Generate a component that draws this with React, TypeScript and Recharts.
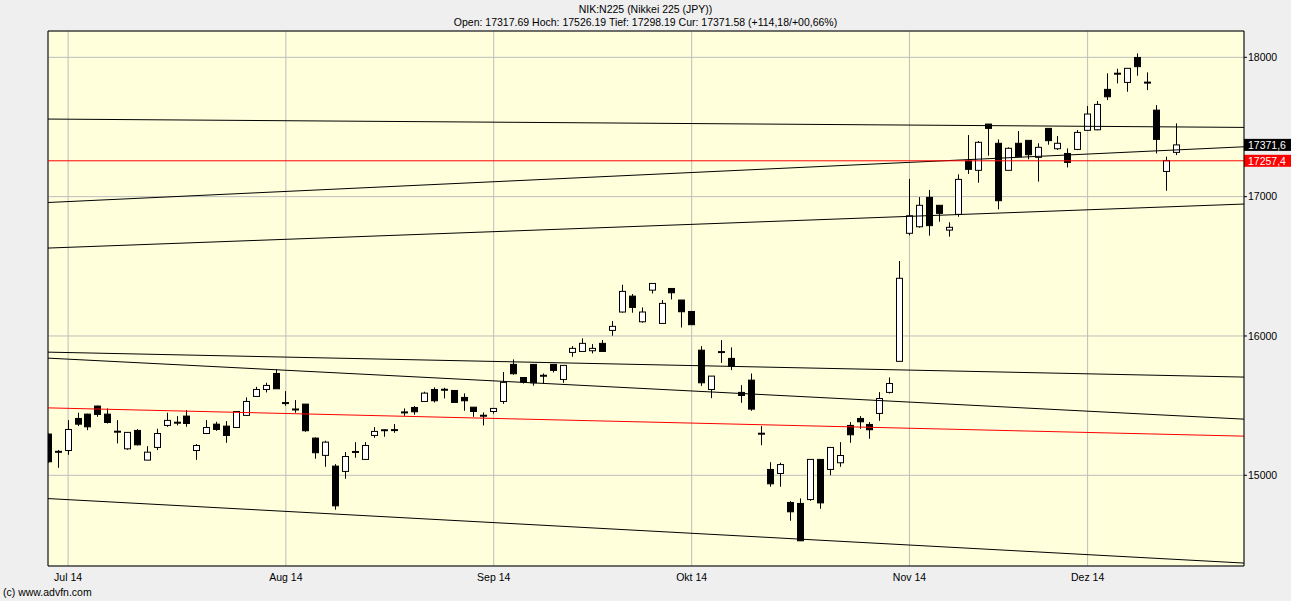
import { ComposedChart, Bar, XAxis, YAxis, CartesianGrid, ReferenceLine } from 'recharts';

// index 0 = first trading day of July 2014; the chart starts two sessions earlier
const firstIndex = -2;

// [open, high, low, close] per trading day
const candles: [number, number, number, number][] = [
  [15296, 15300, 15090, 15097], [15167, 15181, 15054, 15170], [15178, 15396, 15147, 15329],
  [15408, 15449, 15353, 15367], [15439, 15442, 15324, 15348], [15497, 15500, 15420, 15437],
  [15439, 15480, 15372, 15379], [15312, 15396, 15229, 15314], [15190, 15310, 15183, 15308],
  [15322, 15331, 15214, 15219], [15109, 15209, 15109, 15166], [15200, 15334, 15181, 15300],
  [15358, 15449, 15348, 15394], [15379, 15425, 15358, 15376], [15425, 15468, 15348, 15372],
  [15178, 15224, 15111, 15214], [15300, 15396, 15296, 15343], [15367, 15384, 15319, 15329],
  [15353, 15389, 15233, 15286], [15343, 15460, 15341, 15458], [15430, 15559, 15430, 15530],
  [15566, 15635, 15564, 15616], [15616, 15664, 15595, 15645], [15731, 15760, 15621, 15621],
  [15523, 15604, 15499, 15514], [15473, 15540, 15449, 15472], [15511, 15511, 15312, 15320],
  [15267, 15272, 15119, 15162], [15143, 15248, 15061, 15238], [15066, 15080, 14753, 14781],
  [15028, 15167, 14975, 15135], [15167, 15238, 15126, 15168], [15114, 15238, 15114, 15214],
  [15286, 15346, 15269, 15315], [15324, 15329, 15277, 15323], [15324, 15368, 15305, 15325],
  [15451, 15480, 15427, 15452], [15487, 15497, 15435, 15456], [15530, 15600, 15530, 15590],
  [15616, 15631, 15523, 15535], [15616, 15628, 15552, 15612], [15609, 15609, 15523, 15523],
  [15559, 15588, 15463, 15535], [15489, 15489, 15420, 15458], [15427, 15451, 15358, 15428],
  [15458, 15480, 15442, 15480], [15530, 15741, 15513, 15667], [15796, 15832, 15722, 15729],
  [15702, 15702, 15659, 15669], [15796, 15796, 15643, 15664], [15714, 15731, 15659, 15715],
  [15796, 15796, 15738, 15753], [15688, 15789, 15664, 15789], [15882, 15927, 15851, 15911],
  [15889, 15983, 15889, 15947], [15894, 15942, 15875, 15911], [15947, 15971, 15889, 15889],
  [16040, 16107, 16002, 16069], [16172, 16368, 16167, 16320], [16286, 16301, 16167, 16205],
  [16102, 16205, 16095, 16172], [16329, 16377, 16305, 16377], [16090, 16258, 16090, 16234],
  [16341, 16341, 16262, 16310], [16258, 16258, 16061, 16174], [16176, 16176, 16081, 16081],
  [15898, 15927, 15642, 15664], [15616, 15712, 15554, 15712], [15884, 15970, 15807, 15885],
  [15839, 15918, 15755, 15784], [15595, 15647, 15520, 15573], [15683, 15731, 15463, 15475],
  [15298, 15353, 15216, 15299], [15042, 15094, 14918, 14939], [15013, 15090, 14918, 15077],
  [14805, 14814, 14674, 14738], [14798, 14834, 14530, 14530], [14826, 15114, 14817, 15114],
  [15114, 15114, 14760, 14802], [15042, 15200, 15001, 15200], [15090, 15238, 15061, 15142],
  [15358, 15382, 15233, 15291], [15408, 15425, 15334, 15384], [15365, 15382, 15262, 15327],
  [15444, 15597, 15391, 15551], [15595, 15702, 15587, 15659], [15818, 16538, 15818, 16414],
  [16737, 17127, 16722, 16863], [16784, 16997, 16777, 16938], [16995, 17048, 16720, 16792],
  [16938, 16938, 16820, 16880], [16760, 16816, 16713, 16780], [16873, 17160, 16856, 17124],
  [17256, 17442, 17163, 17196], [17189, 17399, 17100, 17390], [17521, 17521, 17294, 17490],
  [17383, 17411, 16909, 16971], [17189, 17354, 17189, 17347], [17383, 17471, 17287, 17287],
  [17404, 17404, 17268, 17301], [17282, 17383, 17108, 17354], [17490, 17490, 17373, 17402],
  [17344, 17435, 17335, 17383], [17310, 17346, 17210, 17246], [17339, 17478, 17334, 17461],
  [17476, 17650, 17476, 17593], [17480, 17686, 17476, 17662], [17770, 17885, 17693, 17717],
  [17882, 17918, 17813, 17883], [17820, 17921, 17753, 17921], [17999, 18028, 17868, 17933],
  [17818, 17892, 17765, 17819], [17621, 17657, 17310, 17411], [17181, 17287, 17042, 17258],
  [17317.69, 17526.19, 17298.19, 17371.58],
];

const monthTicks = [0, 22, 43, 63, 85, 103];
const monthLabels = ['Jul 14', 'Aug 14', 'Sep 14', 'Okt 14', 'Nov 14', 'Dez 14'];
const priceTicks = [15000, 16000, 17000, 18000];

// visible index / price window
const xDomain: [number, number] = [-2.03, 118.8];
const yDomain: [number, number] = [14349, 18189];

// trend lines: [value at left edge, value at right edge]
const blackLines: [number, number][] = [
  [17557, 17497], [16958, 17358], [16631, 16947],
  [15884, 15705], [15841, 15403], [14833, 14370],
];
const redLines: [number, number][] = [[15484, 15281]];
const redLevel = 17257.4;
const lastClose = 17371.6;

const fmtDe = (v: number) => v.toFixed(1).replace('.', ',');

const data = candles.map(([open, high, low, close], k) => ({
  i: firstIndex + k, open, high, low, close, range: [low, high],
}));

const FONT = "'Liberation Sans', Arial, sans-serif";

function Candle(props: any) {
  const { x, y, width, height, payload } = props;
  const { open, high, low, close } = payload;
  const cx = Math.round(x + width / 2) + 0.5;
  const py = (v: number) => y + ((high - v) / (high - low)) * height;
  const top = py(Math.max(open, close));
  const bot = py(Math.min(open, close));
  const body = bot - top;
  return (
    <g>
      <line x1={cx} x2={cx} y1={y} y2={y + height} stroke="#000" strokeWidth={1} />
      {body < 1.5 ? (
        <line x1={cx - 3.5} x2={cx + 3.5} y1={(top + bot) / 2} y2={(top + bot) / 2} stroke="#000" strokeWidth={2} />
      ) : (
        <rect x={cx - 3} y={top} width={6} height={body} fill={close >= open ? '#fff' : '#000'} stroke="#000" strokeWidth={1} />
      )}
    </g>
  );
}

function PriceTag({ viewBox, text, fill }: any) {
  const left = viewBox.x + viewBox.width;
  return (
    <g>
      <rect x={left} y={viewBox.y - 6} width={48} height={12} fill={fill} />
      <text x={left + 4} y={viewBox.y + 4} fill="#fff" fontSize={10.5} fontFamily={FONT}>{text}</text>
    </g>
  );
}

export default function App() {
  return (
    <div style={{ position: 'absolute', left: 0, top: 0, width: 1291, height: 601, background: '#efefef', fontFamily: FONT, color: '#000' }}>
      <div style={{ position: 'absolute', top: 3, left: 0, width: 1291, textAlign: 'center', fontSize: 10.5, lineHeight: '13px' }}>
        <div>NIK:N225 (Nikkei 225 (JPY))</div>
        <div>Open: 17317.69 Hoch: 17526.19 Tief: 17298.19 Cur: 17371.58 (+114,18/+00,66%)</div>
      </div>
      <ComposedChart width={1291} height={601} data={data} margin={{ top: 31, right: 0, bottom: 0, left: 48 }}>
        <CartesianGrid fill="#ffffdc" stroke="#bdbdbd" horizontal vertical />
        <XAxis
          dataKey="i" type="number" domain={xDomain} allowDataOverflow
          ticks={monthTicks} interval={0} height={35}
          tickFormatter={(v: number) => monthLabels[monthTicks.indexOf(v)] ?? ''}
          tick={{ fontSize: 10.5, fill: '#000', fontFamily: FONT }}
          tickLine={false} tickSize={6} tickMargin={2}
          axisLine={{ stroke: '#000' }}
        />
        <YAxis
          orientation="right" type="number" domain={yDomain} allowDataOverflow
          ticks={priceTicks} interval={0} width={47}
          tick={{ fontSize: 10.5, fill: '#000', fontFamily: FONT }}
          tickSize={3} tickMargin={1}
          tickLine={{ stroke: '#000' }} axisLine={{ stroke: '#000' }}
        />
        <ReferenceLine x={xDomain[0]} stroke="#000" />
        <ReferenceLine y={yDomain[1]} stroke="#000" />
        {blackLines.map(([a, b], k) => (
          <ReferenceLine key={'b' + k} segment={[{ x: xDomain[0], y: a }, { x: xDomain[1], y: b }]} stroke="#000" strokeWidth={1} />
        ))}
        {redLines.map(([a, b], k) => (
          <ReferenceLine key={'r' + k} segment={[{ x: xDomain[0], y: a }, { x: xDomain[1], y: b }]} stroke="#ff0000" strokeWidth={1} />
        ))}
        <ReferenceLine
          y={redLevel} stroke="#ff0000"
          label={(p: any) => <PriceTag viewBox={p.viewBox} text={fmtDe(redLevel)} fill="#ff0000" />}
        />
        <ReferenceLine
          y={lastClose} stroke="none"
          label={(p: any) => <PriceTag viewBox={p.viewBox} text={fmtDe(lastClose)} fill="#000" />}
        />
        <Bar dataKey="range" shape={Candle} barSize={7} isAnimationActive={false} />
      </ComposedChart>
      <div style={{ position: 'absolute', left: 3, top: 586, fontSize: 10.5 }}>(c) www.advfn.com</div>
    </div>
  );
}
